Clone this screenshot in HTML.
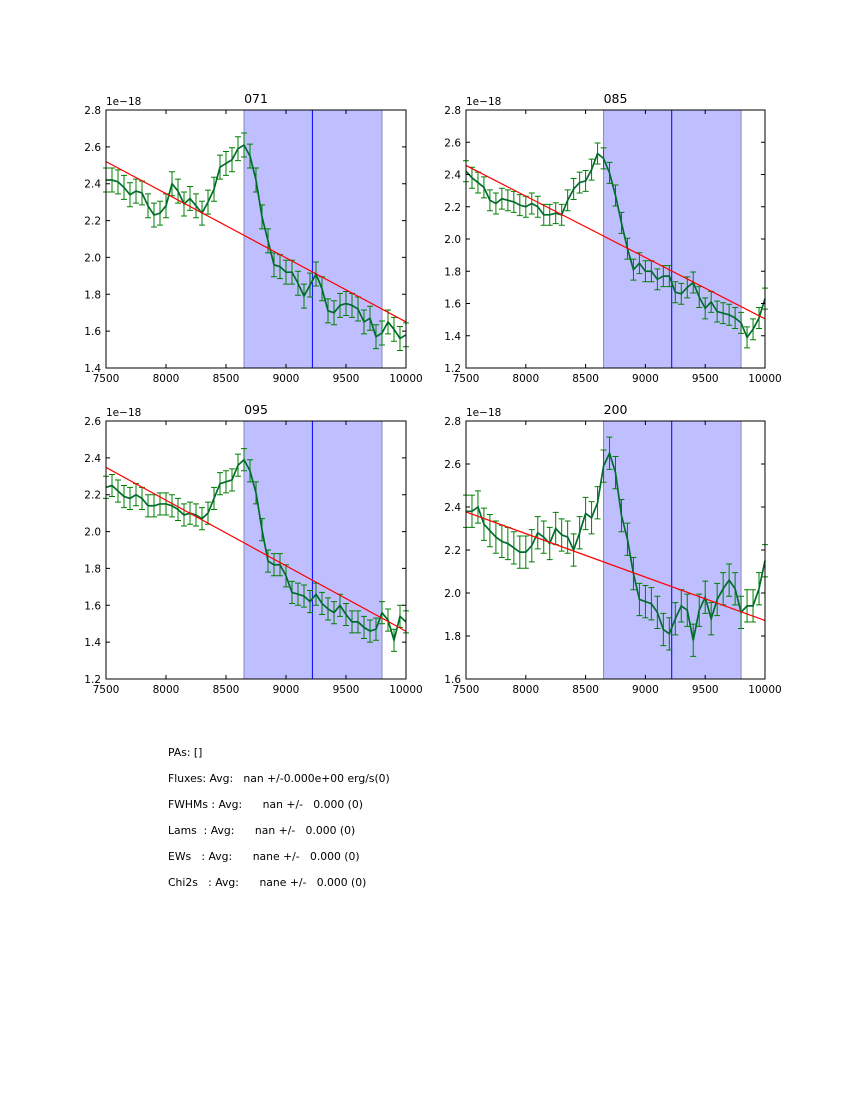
<!DOCTYPE html>
<html><head><meta charset="utf-8"><style>
body{margin:0;background:#fff;}
#wrap{position:relative;width:850px;height:1100px;font-family:"DejaVu Sans","Liberation Sans",sans-serif;}
svg{position:absolute;left:0;top:0;font-family:"DejaVu Sans","Liberation Sans",sans-serif;}
.txt{position:absolute;left:168px;font-size:10.8px;white-space:pre;color:#000;}
</style></head><body>
<div id="wrap">
<svg id="fig" width="850" height="1100"></svg>
<div class="txt" style="top:746px">PAs: []</div>
<div class="txt" style="top:772px">Fluxes: Avg:   nan +/-0.000e+00 erg/s(0)</div>
<div class="txt" style="top:798px">FWHMs : Avg:      nan +/-   0.000 (0)</div>
<div class="txt" style="top:824px">Lams  : Avg:      nan +/-   0.000 (0)</div>
<div class="txt" style="top:850px">EWs   : Avg:      nane +/-   0.000 (0)</div>
<div class="txt" style="top:876px">Chi2s   : Avg:      nane +/-   0.000 (0)</div>
</div>
<script>
const wavelengths = [];
for (let w = 7500; w <= 10000; w += 50) wavelengths.push(w);
const flux071 = [2.42,2.42,2.41,2.38,2.34,2.36,2.35,2.28,2.23,2.24,2.28,2.40,2.36,2.29,2.32,2.28,2.24,2.30,2.37,2.49,2.51,2.53,2.59,2.61,2.55,2.42,2.22,2.09,1.96,1.95,1.92,1.92,1.86,1.79,1.85,1.91,1.83,1.71,1.70,1.74,1.75,1.74,1.72,1.65,1.67,1.57,1.59,1.65,1.61,1.56,1.58];
const flux085 = [2.42,2.38,2.35,2.32,2.24,2.22,2.25,2.24,2.23,2.21,2.20,2.22,2.20,2.15,2.15,2.16,2.15,2.24,2.31,2.35,2.36,2.43,2.53,2.50,2.41,2.27,2.10,1.94,1.81,1.85,1.80,1.80,1.75,1.77,1.77,1.67,1.66,1.70,1.73,1.64,1.57,1.61,1.55,1.54,1.53,1.51,1.48,1.39,1.44,1.51,1.63];
const flux095 = [2.24,2.25,2.22,2.19,2.18,2.20,2.18,2.14,2.14,2.15,2.15,2.14,2.12,2.09,2.10,2.09,2.07,2.10,2.18,2.26,2.27,2.28,2.36,2.39,2.33,2.21,2.01,1.84,1.82,1.82,1.76,1.67,1.66,1.65,1.62,1.66,1.61,1.58,1.56,1.60,1.55,1.51,1.51,1.48,1.46,1.47,1.56,1.52,1.41,1.54,1.51];
const flux200 = [2.38,2.38,2.40,2.32,2.29,2.26,2.24,2.23,2.21,2.19,2.19,2.22,2.28,2.26,2.23,2.30,2.27,2.26,2.20,2.28,2.37,2.35,2.42,2.59,2.65,2.56,2.36,2.25,2.09,1.97,1.96,1.95,1.91,1.83,1.81,1.88,1.94,1.92,1.78,1.92,1.98,1.88,1.97,2.02,2.06,2.02,1.91,1.94,1.94,2.02,2.15];
const errors = [0.065,0.065,0.06,0.075];
const fitStart = [2.52,2.456,2.348,2.377];
const fitEnd = [1.65,1.505,1.459,1.872];
const titles = ["071","085","095","200"];
const yMins = [1.4,1.2,1.2,1.6];
const yMaxs = [2.8,2.8,2.6,2.8];
const xTicks = [7500,8000,8500,9000,9500,10000];
const bandLo = 8650, bandHi = 9800, lineX = 9220;
const series = [flux071,flux085,flux095,flux200];
const boxes = [[106,110,406,368],[466,110,765,368],[106,421,406,679],[466,421,765,679]];
const NS="http://www.w3.org/2000/svg";
const svg=document.getElementById('fig');
function mk(tag,attrs,parent){const e=document.createElementNS(NS,tag);for(const k in attrs)e.setAttribute(k,attrs[k]);(parent||svg).appendChild(e);return e;}
series.forEach((data,p)=>{
  const [L,T,R,B]=boxes[p];
  const g=mk('g',{});
  
  
  const xs=v=>L+(v-7500)/2500*(R-L);
  const ys=v=>B-(v-yMins[p])/(yMaxs[p]-yMins[p])*(B-T);
  const band=mk('rect',{x:xs(bandLo),y:T,width:xs(bandHi)-xs(bandLo),height:B-T,fill:'#bfbfff',stroke:'#8888bb','stroke-width':1},g);
  
  
  const vl=mk('line',{x1:xs(lineX),x2:xs(lineX),y1:T,y2:B,stroke:'#0000ff','stroke-width':1},g);
  
  
  const e=errors[p];
  data.forEach((v,i)=>{
    const x=xs(wavelengths[i]);
    const eb=mk('path',{d:`M${x},${ys(v-e)}V${ys(v+e)}M${x-3},${ys(v-e)}h6M${x-3},${ys(v+e)}h6`,stroke:'#008000','stroke-width':1,fill:'none'},g);
    
    
  });
  const pl=mk('polyline',{points:data.map((v,i)=>xs(wavelengths[i])+','+ys(v)).join(' '),fill:'none',stroke:'#006d2c','stroke-width':1.7},g);
  
  
  const fl=mk('line',{x1:xs(7500),y1:ys(fitStart[p]),x2:xs(10000),y2:ys(fitEnd[p]),stroke:'#ff0000','stroke-width':1.2},g);
  
  
  const fr=mk('rect',{x:L,y:T,width:R-L,height:B-T,fill:'none',stroke:'#000','stroke-width':1},g);
  
  
  xTicks.forEach(t=>{
    const x=xs(t);
    mk('path',{d:`M${x},${B}v-4M${x},${T}v4`,stroke:'#000'},g);
    const tx=mk('text',{x:x,y:B+14,'text-anchor':'middle','font-size':10.5},g);
    tx.textContent=t;
    
    
  });
  for(let v=yMins[p];v<=yMaxs[p]+1e-6;v+=0.2){
    const y=ys(v);
    mk('path',{d:`M${L},${y}h4M${R},${y}h-4`,stroke:'#000'},g);
    const ty=mk('text',{x:L-5,y:y+4,'text-anchor':'end','font-size':10.5},g);
    ty.textContent=v.toFixed(1);
    
    
  }
  const off=mk('text',{x:L,y:T-5,'font-size':10.5},g);
  off.textContent='1e\u221218';
  
  
  const ti=mk('text',{x:(L+R)/2,y:T-7,'text-anchor':'middle','font-size':12.5},g);
  ti.textContent=titles[p];
  
  
});
</script>
</body></html>
